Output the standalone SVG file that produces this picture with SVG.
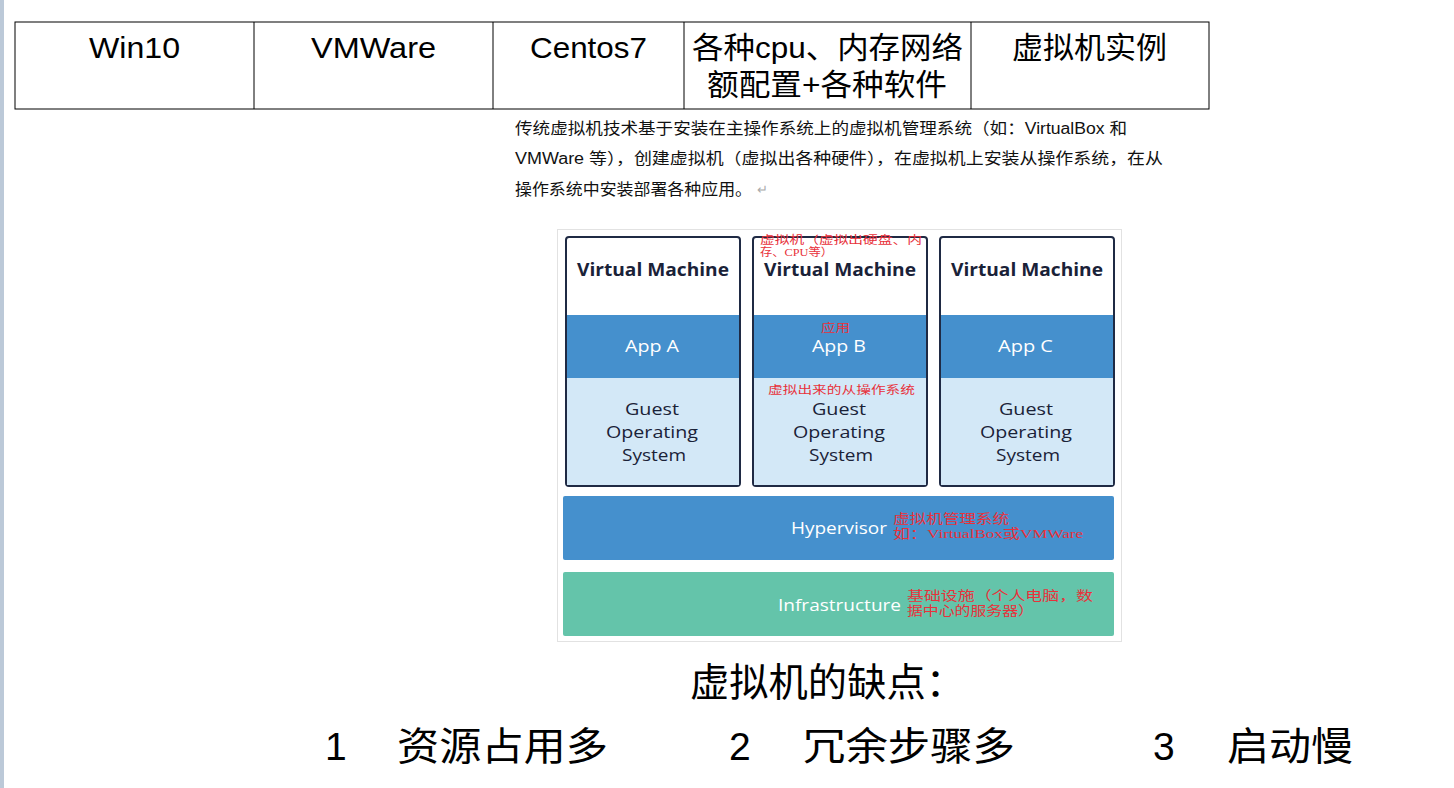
<svg xmlns="http://www.w3.org/2000/svg" width="1454" height="788" viewBox="0 0 1454 788">
<style>
.cell{font-family:"Liberation Sans","Noto Sans CJK SC",sans-serif;font-size:30px;fill:#000}
.para{font-family:"Liberation Sans","Noto Sans CJK SC",sans-serif;font-size:16px;fill:#111}
.vmt{font-family:"Open Sans","Noto Sans",sans-serif;font-weight:bold;font-size:17px;fill:#1a2238}
.app{font-family:"Open Sans","Noto Sans",sans-serif;font-size:17px;fill:#fff}
.gos{font-family:"Open Sans","Noto Sans",sans-serif;font-size:17px;fill:#1a2238}
.red{font-family:"Liberation Serif","Noto Sans CJK SC",serif;font-size:11px;fill:#e8313a}
.red2{font-family:"Liberation Serif","Noto Sans CJK SC",serif;font-size:13px;fill:#e8313a}
.big{font-family:"Liberation Sans","Noto Sans CJK SC",sans-serif;font-size:39px;fill:#000}
.vm{fill:#fff;stroke:#1f2a44;stroke-width:2}
</style>
<rect x="0" y="0" width="1454" height="788" fill="#fff"/>
<rect x="0" y="0" width="4" height="788" fill="#bcc9d8"/>
<g id="table">
<rect x="15" y="22" width="1194" height="87" fill="none" stroke="#000" stroke-width="1"/>
<line x1="254" y1="22" x2="254" y2="109" stroke="#000"/>
<line x1="493" y1="22" x2="493" y2="109" stroke="#000"/>
<line x1="684" y1="22" x2="684" y2="109" stroke="#000"/>
<line x1="971" y1="22" x2="971" y2="109" stroke="#000"/>
<text class="cell" x="89" y="58" textLength="91" lengthAdjust="spacingAndGlyphs">Win10</text>
<text class="cell" x="311" y="58" textLength="125" lengthAdjust="spacingAndGlyphs">VMWare</text>
<text class="cell" x="530" y="58" textLength="117" lengthAdjust="spacingAndGlyphs">Centos7</text>
<text class="cell" x="692" y="58" textLength="271" lengthAdjust="spacingAndGlyphs">各种cpu、内存网络</text>
<text class="cell" x="707" y="95" textLength="240" lengthAdjust="spacingAndGlyphs">额配置+各种软件</text>
<text class="cell" x="1012" y="58" textLength="155" lengthAdjust="spacingAndGlyphs">虚拟机实例</text>
</g>
<g id="paragraph">
<text class="para" x="515" y="134" textLength="612" lengthAdjust="spacingAndGlyphs">传统虚拟机技术基于安装在主操作系统上的虚拟机管理系统（如：VirtualBox 和</text>
<text class="para" x="515" y="164" textLength="648" lengthAdjust="spacingAndGlyphs">VMWare 等），创建虚拟机（虚拟出各种硬件），在虚拟机上安装从操作系统，在从</text>
<text class="para" x="515" y="195" textLength="237" lengthAdjust="spacingAndGlyphs">操作系统中安装部署各种应用。</text>
<text x="757" y="194" font-family="Liberation Sans, sans-serif" font-size="13" fill="#aaa">↵</text>
</g>
<g id="figure">
<rect x="557.500" y="229.500" width="564" height="412" fill="#fff" stroke="#e2e2e2"/>
</g>
<g id="vm1">
<rect class="vm" x="566" y="237" width="174" height="249" rx="3"/>
<rect x="567" y="315" width="172" height="63" fill="#4590cd"/>
<rect x="567" y="378" width="172" height="107" fill="#d3e8f7"/>
<text class="vmt" x="577" y="276" textLength="152" lengthAdjust="spacingAndGlyphs">Virtual Machine</text>
<text class="app" x="625" y="352" textLength="54" lengthAdjust="spacingAndGlyphs">App A</text>
<text class="gos" x="625" y="415" textLength="54" lengthAdjust="spacingAndGlyphs">Guest</text>
<text class="gos" x="606" y="438" textLength="92" lengthAdjust="spacingAndGlyphs">Operating</text>
<text class="gos" x="622" y="461" textLength="64" lengthAdjust="spacingAndGlyphs">System</text>
</g>
<g id="vm2">
<rect class="vm" x="753" y="237" width="174" height="249" rx="3"/>
<rect x="754" y="315" width="172" height="63" fill="#4590cd"/>
<rect x="754" y="378" width="172" height="107" fill="#d3e8f7"/>
<text class="vmt" x="764" y="276" textLength="152" lengthAdjust="spacingAndGlyphs">Virtual Machine</text>
<text class="app" x="812" y="352" textLength="54" lengthAdjust="spacingAndGlyphs">App B</text>
<text class="gos" x="812" y="415" textLength="54" lengthAdjust="spacingAndGlyphs">Guest</text>
<text class="gos" x="793" y="438" textLength="92" lengthAdjust="spacingAndGlyphs">Operating</text>
<text class="gos" x="809" y="461" textLength="64" lengthAdjust="spacingAndGlyphs">System</text>
<text class="red" x="760" y="244" textLength="162" lengthAdjust="spacingAndGlyphs">虚拟机（虚拟出硬盘、内</text>
<text class="red" x="760" y="256" textLength="73" lengthAdjust="spacingAndGlyphs">存、CPU等）</text>
<text class="red" x="821" y="332" textLength="29" lengthAdjust="spacingAndGlyphs">应用</text>
<text class="red" x="768" y="394" textLength="147" lengthAdjust="spacingAndGlyphs">虚拟出来的从操作系统</text>
</g>
<g id="vm3">
<rect class="vm" x="940" y="237" width="174" height="249" rx="3"/>
<rect x="941" y="315" width="172" height="63" fill="#4590cd"/>
<rect x="941" y="378" width="172" height="107" fill="#d3e8f7"/>
<text class="vmt" x="951" y="276" textLength="152" lengthAdjust="spacingAndGlyphs">Virtual Machine</text>
<text class="app" x="998" y="352" textLength="55" lengthAdjust="spacingAndGlyphs">App C</text>
<text class="gos" x="999" y="415" textLength="54" lengthAdjust="spacingAndGlyphs">Guest</text>
<text class="gos" x="980" y="438" textLength="92" lengthAdjust="spacingAndGlyphs">Operating</text>
<text class="gos" x="996" y="461" textLength="64" lengthAdjust="spacingAndGlyphs">System</text>
</g>
<g id="hypervisor">
<rect x="563" y="496" width="551" height="64" rx="2" fill="#4590cd"/>
<text class="app" x="791" y="534" textLength="96" lengthAdjust="spacingAndGlyphs">Hypervisor</text>
<text class="red2" x="893" y="523" textLength="116" lengthAdjust="spacingAndGlyphs">虚拟机管理系统</text>
<text class="red2" x="893" y="538" textLength="190" lengthAdjust="spacingAndGlyphs">如：VirtualBox或VMWare</text>
</g>
<g id="infrastructure">
<rect x="563" y="572" width="551" height="64" rx="2" fill="#64c4aa"/>
<text class="app" x="778" y="611" textLength="123" lengthAdjust="spacingAndGlyphs">Infrastructure</text>
<text class="red2" x="907" y="600" textLength="186" lengthAdjust="spacingAndGlyphs">基础设施（个人电脑，数</text>
<text class="red2" x="907" y="615" textLength="127" lengthAdjust="spacingAndGlyphs">据中心的服务器）</text>
</g>
<g id="cons">
<text class="big" x="690" y="696" textLength="275" lengthAdjust="spacingAndGlyphs">虚拟机的缺点：</text>
<text class="big" x="325" y="760">1</text>
<text class="big" x="397" y="760" textLength="211" lengthAdjust="spacingAndGlyphs">资源占用多</text>
<text class="big" x="729" y="760">2</text>
<text class="big" x="803" y="760" textLength="212" lengthAdjust="spacingAndGlyphs">冗余步骤多</text>
<text class="big" x="1153" y="760">3</text>
<text class="big" x="1227" y="760" textLength="126" lengthAdjust="spacingAndGlyphs">启动慢</text>
</g>
</svg>
